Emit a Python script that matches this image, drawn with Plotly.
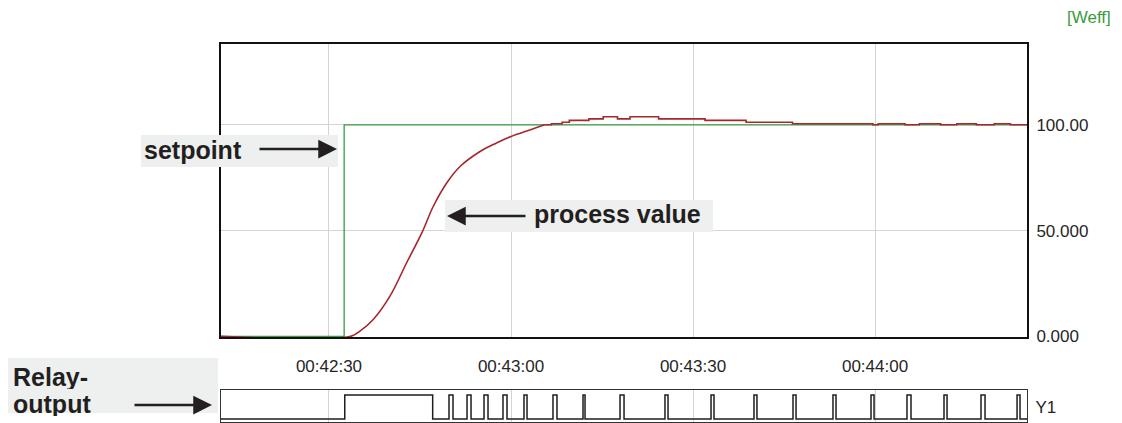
import pandas as pd
import plotly.graph_objects as go

# time in seconds after 00:42:00
T0 = pd.Timestamp("2024-01-01 00:42:00")

setpoint_t = [12.0, 32.5, 145.5]
setpoint_v = [0.0, 100.0, 100.0]

# process value, rising part (smooth)
rise_t = [12.0, 33.6, 35.1, 37.3, 40.05, 42.8, 45.3, 47.2, 49.4, 51.6, 54.9, 57.6, 60.0, 63.1, 65.5]
rise_v = [0.0, 0.0, 2.5, 8.0, 19.0, 34.8, 48.9, 61.5, 72.5, 80.3, 87.4, 91.4, 94.5, 97.6, 100.0]

# process value, settled part (stepped recorder values)
step_t = [65.5, 66.66, 68.42, 69.61, 72.84, 75.2, 77.55, 79.62, 84.33, 91.98, 98.75, 106.4,
          119.65, 120.53, 124.94, 127.3, 130.83, 133.48, 136.71, 139.66, 142.32, 145.5]
step_v = [100.0, 100.5, 101.2, 102.1, 102.8, 103.8, 102.8, 103.8, 102.8, 102.1, 101.2, 100.5,
          100.0, 100.5, 100.0, 100.5, 100.0, 100.5, 100.0, 100.5, 100.0, 100.0]

# relay output switching times
relay_on = [32.6, 49.78, 52.75, 55.55, 58.68, 62.14, 66.92, 71.87, 77.97, 85.38, 92.97,
            100.05, 106.48, 113.07, 119.34, 125.27, 131.37, 137.47, 143.41]
relay_off = [47.09, 50.44, 53.41, 56.21, 59.34, 62.64, 67.58, 72.2, 78.63, 85.88, 93.46,
             100.54, 106.98, 113.57, 119.84, 125.93, 131.87, 138.13, 143.9]

y_ticks = [0, 50, 100]
y_ticktext = ["0.000", "50.000", "100.00"]


def ts(sec):
    return T0 + pd.to_timedelta(pd.Series(sec, dtype=float), unit="s")


relay_t = [12.0]
relay_v = [0]
for on, off in zip(relay_on, relay_off):
    relay_t += [on, off]
    relay_v += [1, 0]
relay_t.append(145.5)
relay_v.append(0)

# page has an 8px body margin, so the figure is drawn 8px smaller and offset
OFF = 8
W, H = 1122 - OFF, 423 - OFF
# plot area in page pixels
L, R, TOP, BOT = 221, 1027, 44, 422
def px(x):
    return (x - L) / (R - L)
def py(y):
    return (BOT - y) / (BOT - TOP)

PV_RED = "#a3282f"
SP_GREEN = "#3c9a40"
INK = "#231f20"

fig = go.Figure()
fig.add_trace(go.Scatter(x=ts(setpoint_t), y=setpoint_v, mode="lines", line_shape="hv",
                         line=dict(color=SP_GREEN, width=1.3), xaxis="x", yaxis="y"))
fig.add_trace(go.Scatter(x=ts(rise_t), y=rise_v, mode="lines", line_shape="spline",
                         line=dict(color=PV_RED, width=1.6), xaxis="x", yaxis="y"))
fig.add_trace(go.Scatter(x=ts(step_t), y=step_v, mode="lines", line_shape="hv",
                         line=dict(color=PV_RED, width=1.6), xaxis="x", yaxis="y"))
fig.add_trace(go.Scatter(x=ts(relay_t), y=relay_v, mode="lines", line_shape="hv",
                         line=dict(color="#1e1e1e", width=1.5), xaxis="x2", yaxis="y2"))

x_range = [T0 + pd.Timedelta(seconds=12.2), T0 + pd.Timedelta(seconds=145.05)]
tick_font = dict(family="Liberation Sans", size=17, color="#262626")

shapes = []
annotations = []

def label_box(x0, y0, x1, y1):
    shapes.append(dict(type="rect", xref="paper", yref="paper", layer="above",
                       x0=px(x0), x1=px(x1), y0=py(y1), y1=py(y0),
                       fillcolor="#eeefef", line=dict(width=0)))

def label_text(x, y, text, h=None):
    annotations.append(dict(xref="paper", yref="paper", x=px(x), y=py(y), text="<b>%s</b>" % text,
                            showarrow=False, xanchor="left", yanchor="middle", height=h,
                            font=dict(family="Liberation Sans", size=25, color=INK)))

def arrow(x_head, y, dx):
    annotations.append(dict(xref="paper", yref="paper", x=px(x_head), y=py(y), text="",
                            showarrow=True, ax=dx, ay=0, arrowhead=2, arrowsize=1.5,
                            arrowwidth=2.5, arrowcolor=INK))

label_box(141, 135, 338, 167)
label_text(142, 150, "setpoint")
arrow(337, 149, -79)

label_box(445, 200, 713, 232)
label_text(532, 214, "process value")
arrow(447, 216, 80)

label_box(0, 358, 218, 413)
label_text(11, 377, "Relay-", h=24)
label_text(11, 404, "output", h=24)
arrow(212, 405, -79)

annotations.append(dict(xref="paper", yref="paper", x=px(1113), y=py(18), text="[Weff]",
                        showarrow=False, xanchor="right", yanchor="middle",
                        font=dict(family="Liberation Sans", size=17, color=SP_GREEN)))

fig.update_layout(
    width=W, height=H,
    margin=dict(l=L - OFF, r=1122 - R, t=TOP - OFF, b=423 - BOT),
    paper_bgcolor="white", plot_bgcolor="white",
    showlegend=False,
    xaxis=dict(domain=[0, 1], anchor="y", type="date", range=x_range, automargin=False,
               tick0=T0 + pd.Timedelta(seconds=30), dtick=30000, tickformat="%H:%M:%S",
               showgrid=True, gridcolor="#d4d4d4", gridwidth=1,
               showline=True, linecolor="#111111", linewidth=2, mirror=True,
               ticks="", ticklabelstandoff=13, tickfont=tick_font, zeroline=False),
    yaxis=dict(domain=[py(337), 1], anchor="x", side="right", range=[-0.3, 138.2],
               tickvals=y_ticks, ticktext=y_ticktext, automargin=False,
               showgrid=True, gridcolor="#d4d4d4", gridwidth=1, zeroline=False,
               showline=True, linecolor="#111111", linewidth=2, mirror=True,
               ticks="", ticklabelstandoff=4, tickfont=tick_font),
    xaxis2=dict(domain=[0, 1], anchor="y2", type="date", matches="x", automargin=False,
                tick0=T0 + pd.Timedelta(seconds=30), dtick=30000,
                showgrid=True, gridcolor="#d4d4d4", gridwidth=1, showticklabels=False,
                showline=True, linecolor="#333333", linewidth=1, mirror=True, ticks="", zeroline=False),
    yaxis2=dict(domain=[0, py(390)], anchor="x2", side="right", range=[-0.125, 1.21],
                tickvals=[0.5], ticktext=["Y1"], showgrid=False, zeroline=False, automargin=False,
                showline=True, linecolor="#333333", linewidth=1, mirror=True,
                ticks="", ticklabelstandoff=4, tickfont=tick_font),
    shapes=shapes,
    annotations=annotations,
)

fig.write_html("out.html")
